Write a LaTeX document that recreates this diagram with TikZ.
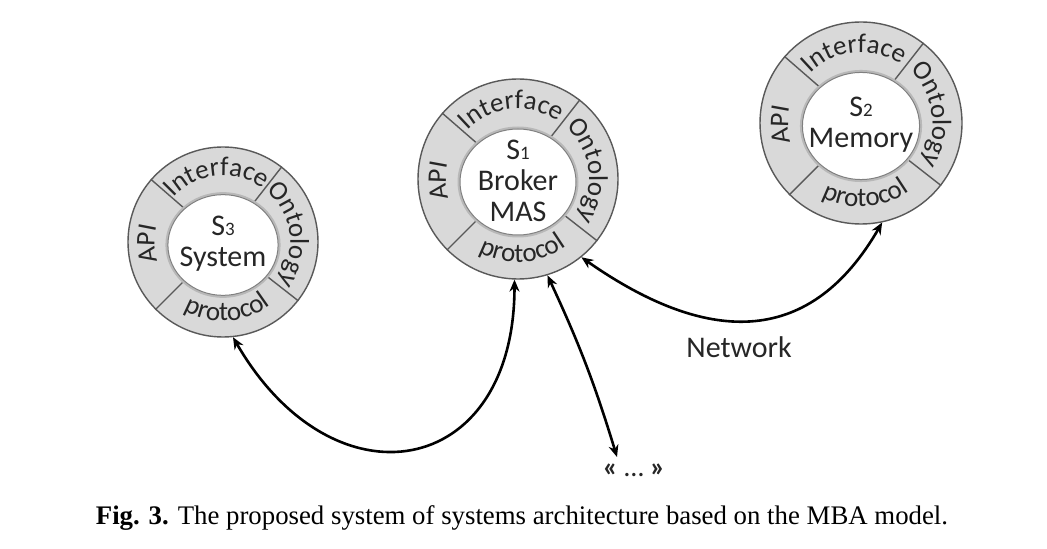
\documentclass[tikz,border=0pt]{standalone}
\usepackage{fontspec}
\setmainfont{Carlito}
\newfontfamily\capfont{Liberation Serif}
\usetikzlibrary{arrows.meta,decorations.text,calc}

\newcommand\ringfont{\fontsize{13.5}{13.5}\selectfont\color{black!85}}
\newcommand\subdig[1]{{\fontsize{9.5}{9.5}\selectfont #1}}

\tikzset{
  outring/.style={circle, draw=black!65, fill=black!15, line width=0.7pt, inner sep=0pt, minimum size=#1},
  divline/.style={draw=black!65, line width=0.7pt},
  innerglow/.style={fill=black!28},
  innerdisc/.style={fill=white, draw=black!50, line width=0.5pt},
  centertext/.style={align=center, font=\fontsize{15}{15.5}\selectfont, text=black!85, inner sep=0pt},
  link/.style={line width=1.3pt, {Stealth[length=6pt,width=5pt]}-{Stealth[length=6pt,width=5pt]}},
  plainlabel/.style={font=\fontsize{15}{15}\selectfont, text=black!85, inner sep=0pt},
}

% #1 name, #2 x, #3 y, #4 outer radius (px), #5 label
\newcommand\ringsystem[5]{%
  \node[outring=#4pt] (#1) at (#2,#3) {};
  \foreach \a in {139,52,-38,-135} {\draw[divline] ($(#1.center)+(\a:{0.5*#4})$) -- (#1.\a);}
  \fill[innerglow] ($(#1.center)+(0,-3)$) ellipse [x radius={0.58*#4+2.5}, y radius={0.53*#4+2.5}];
  \filldraw[innerdisc] ($(#1.center)+(0,-3)$) ellipse [x radius={0.58*#4}, y radius={0.53*#4}];
  \path[decorate, decoration={text along path, text align=center, text={|\ringfont|Interface}}]
    ($(#1.center)+(165.5:{0.70*#4})$) arc[start angle=165.5, end angle=25.5, radius={0.70*#4}];
  \path[decorate, decoration={text along path, text align=center, text={|\ringfont|Ontology}}]
    ($(#1.center)+(77:{0.71*#4})$) arc[start angle=77, end angle=-63, radius={0.71*#4}];
  \path[decorate, decoration={text along path, text align=center, text={|\ringfont|API}}]
    ($(#1.center)+(251.5:{0.72*#4})$) arc[start angle=251.5, end angle=111.5, radius={0.72*#4}];
  \path[decorate, decoration={text along path, text align=center, text={|\ringfont|protocol}}]
    ($(#1.center)+(-156.5:{0.83*#4})$) arc[start angle=-156.5, end angle=-16.5, radius={0.83*#4}];
  \node[centertext] (#1-lab) at ($(#1.center)+(0,-2)$) {#5};
}

\begin{document}
\begin{tikzpicture}[x=0.5pt, y=0.5pt]
  \useasboundingbox (0,0) rectangle (1047,-549);
  \fill[white] (0,0) rectangle (1047,-549);

  \ringsystem{s3}{223}{-242}{95}{S\subdig{3}\\System}
  \ringsystem{s1}{518}{-179}{100}{S\subdig{1}\\Broker\\MAS}
  \ringsystem{s2}{861}{-123}{101}{S\subdig{2}\\Memory}

  \node[plainlabel] (net) at (739,-347) {Network};
  \node[font=\fontsize{14}{14}\selectfont, text=black!85, inner sep=0pt] (dots) at (634,-470) {\textbf{«}~…~\textbf{»}};
  \coordinate (dotsin) at (617,-457);

  \draw[link] (s3.-84) .. controls +(-60:200) and +(-90:200) .. (s1.-92);
  \draw[link] (s1.-73) to[bend left=4] (dotsin);
  \draw[link] (s1.-51) .. controls +(-35:160) and +(-120:140) .. (s2.-78);

  \node[font=\capfont\fontsize{13.4}{13.4}\selectfont, inner sep=0pt] (cap) at (522,-518)
    {\textbf{Fig. 3.} The proposed system of systems architecture based on the MBA model.};
\end{tikzpicture}
\end{document}
